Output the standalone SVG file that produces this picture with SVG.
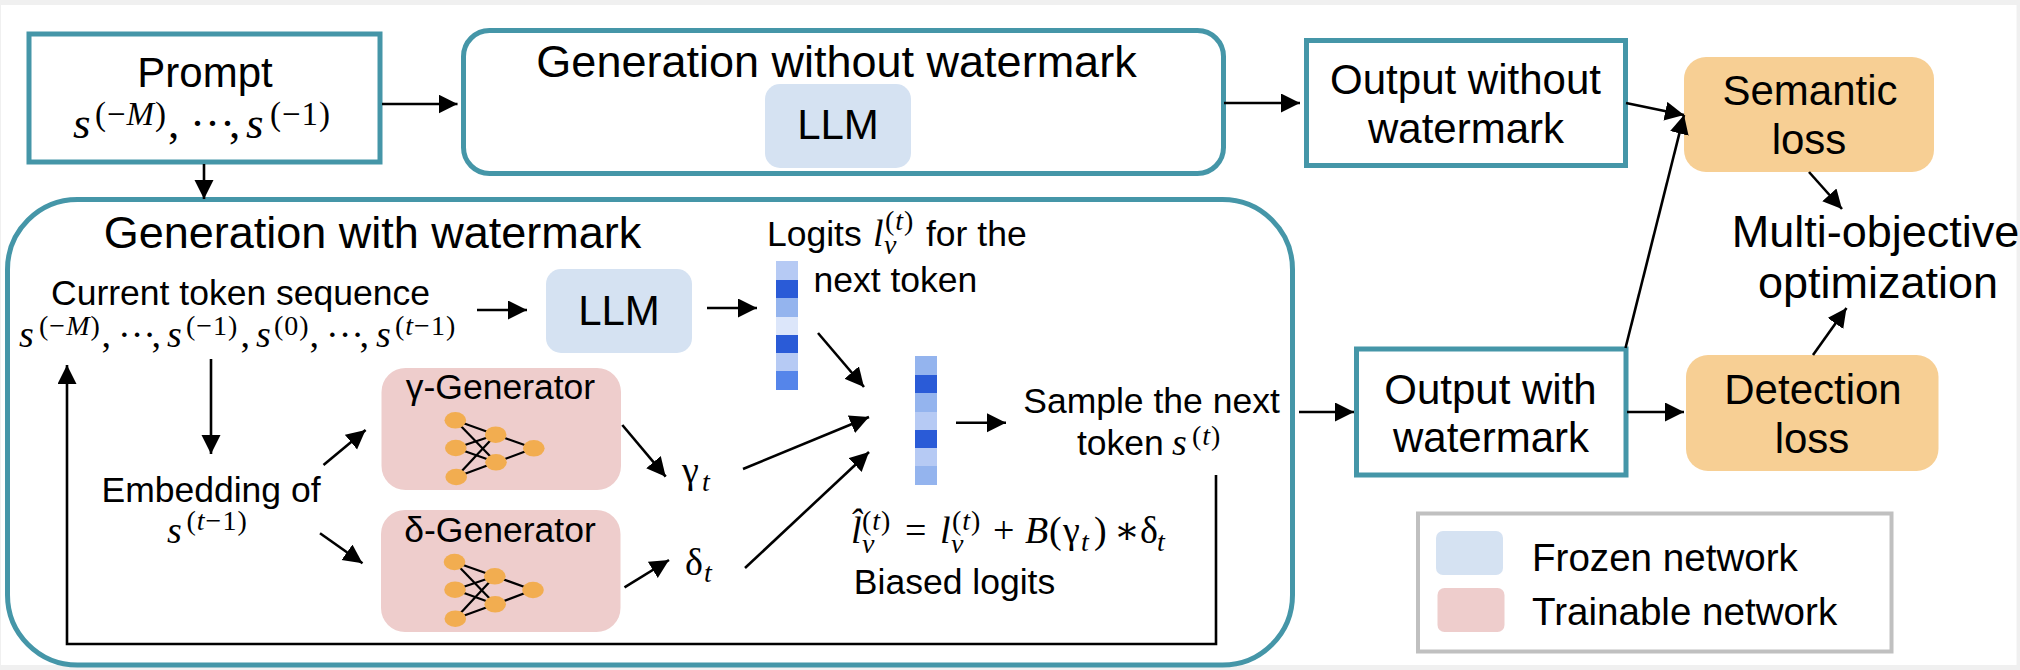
<svg xmlns="http://www.w3.org/2000/svg" width="2020" height="670" viewBox="0 0 2020 670">
<style>
text{font-family:"Liberation Sans",Arial,sans-serif;fill:#000;text-anchor:middle}
.f45{font-size:45px}.f42{font-size:42px}.f36{font-size:35.5px}.f38{font-size:38.6px}
.st{text-anchor:start}
.teal{fill:#fff;stroke:#4596a8;stroke-width:5}
.frozen{fill:#d5e2f2}.train{fill:#eecdcc}.loss{fill:#f7cf94}
.m{font-family:"Liberation Serif","DejaVu Serif",serif;text-anchor:start}
.i{font-style:italic}
.b{font-size:45px}.bs{font-size:33px;letter-spacing:1px}.c{font-size:38px}.cs{font-size:28px;letter-spacing:1px}
.edges line,.edges path{stroke:#000;stroke-width:2.6;fill:none}
.arr{marker-end:url(#ah)}
.nn line{stroke:#000;stroke-width:2.2}
.nn ellipse{fill:#f2ad50;rx:10.8px;ry:8.3px}
</style>
<defs>
<marker id="ah" markerUnits="userSpaceOnUse" markerWidth="20" markerHeight="20" refX="19" refY="9.5" orient="auto"><path d="M0,0L19,9.5L0,19z" fill="#000"/></marker>
</defs>
<rect width="2020" height="670" fill="#f0f0f0"/>
<rect x="1" y="5" width="2015.500" height="660" fill="#fff"/>

<g id="with-watermark"><rect class="teal" x="7.500" y="199.500" width="1285" height="465.500" rx="70"/>
<text class="f45" x="372.500" y="248">Generation with watermark</text></g>

<g id="prompt"><rect class="teal" x="29" y="34" width="351" height="128"/>
<text class="f42" x="205" y="87">Prompt</text>
<text class="m b"><tspan class="i" x="73" y="138">s</tspan><tspan class="bs" x="95" y="125">(−<tspan class="i">M</tspan>)</tspan><tspan x="168" y="138">,</tspan><tspan x="190" y="138">···</tspan><tspan x="229" y="138">,</tspan><tspan class="i" x="246" y="138">s</tspan><tspan class="bs" x="270" y="125">(−1)</tspan></text></g>

<g id="without-watermark"><rect class="teal" x="463.500" y="30.500" width="760" height="143" rx="26"/>
<text class="f45" x="836.500" y="77">Generation without watermark</text>
<rect class="frozen" x="765" y="84" width="146" height="84" rx="15"/>
<text class="f42" x="838" y="139">LLM</text></g>

<g id="output-without"><rect class="teal" x="1306.500" y="40.500" width="319" height="125"/>
<text class="f42" x="1465.500" y="94">Output without</text><text class="f42" x="1466" y="143">watermark</text></g>

<g id="semantic-loss"><rect class="loss" x="1684" y="57" width="250" height="115" rx="22"/>
<text class="f42" x="1810" y="105">Semantic</text><text class="f42" x="1809" y="154">loss</text></g>

<g id="multi-objective"><text class="f45" x="1875.500" y="247">Multi-objective</text><text class="f45" x="1878" y="298">optimization</text></g>

<g id="output-with"><rect class="teal" x="1356.500" y="349" width="269.500" height="126"/>
<text class="f42" x="1490.500" y="404">Output with</text><text class="f42" x="1491" y="452">watermark</text></g>

<g id="detection-loss"><rect class="loss" x="1686" y="355" width="252.500" height="116" rx="22"/>
<text class="f42" x="1813" y="404">Detection</text><text class="f42" x="1812" y="453">loss</text></g>

<g id="current-sequence"><text class="f36" x="240.500" y="305">Current token sequence</text>
<text class="m c"><tspan class="i" x="19" y="347">s</tspan><tspan class="cs" x="39" y="335">(−<tspan class="i">M</tspan>)</tspan><tspan x="101.500" y="347">,</tspan><tspan x="118" y="347">···</tspan><tspan x="151.500" y="347">,</tspan><tspan class="i" x="167" y="347">s</tspan><tspan class="cs" x="186" y="335">(−1)</tspan><tspan x="240.500" y="347">,</tspan><tspan class="i" x="256" y="347">s</tspan><tspan class="cs" x="274" y="335">(0)</tspan><tspan x="309.500" y="347">,</tspan><tspan x="326" y="347">···</tspan><tspan x="359.500" y="347">,</tspan><tspan class="i" x="376" y="347">s</tspan><tspan class="cs" x="395" y="335">(<tspan class="i">t</tspan>−1)</tspan></text></g>

<g id="llm"><rect class="frozen" x="546" y="269" width="146" height="84" rx="15"/>
<text class="f42" x="619" y="325">LLM</text></g>

<g id="logits"><text class="f36 st" x="767" y="246">Logits</text>
<text class="m c"><tspan class="i" x="873" y="246">l</tspan><tspan class="cs i" x="884" y="254">v</tspan><tspan class="cs" x="885" y="230">(<tspan class="i">t</tspan>)</tspan></text>
<text class="f36 st" x="926" y="246">for the</text><text class="f36 st" x="813.500" y="292">next token</text>
<rect x="776" y="261" width="22" height="19" fill="#b6caf4"/><rect x="776" y="280" width="22" height="18" fill="#2a5bd7"/><rect x="776" y="298" width="22" height="19" fill="#94b4ee"/><rect x="776" y="317" width="22" height="18" fill="#dce6fa"/><rect x="776" y="335" width="22" height="18" fill="#2a5bd7"/><rect x="776" y="353" width="22" height="18" fill="#b6caf4"/><rect x="776" y="371" width="22" height="19" fill="#5585ea"/></g>

<g id="biased-logits">
<rect x="915" y="356" width="22" height="19" fill="#94b4ee"/><rect x="915" y="375" width="22" height="18" fill="#2a5bd7"/><rect x="915" y="393" width="22" height="19" fill="#94b4ee"/><rect x="915" y="412" width="22" height="18" fill="#b6caf4"/><rect x="915" y="430" width="22" height="18" fill="#2a5bd7"/><rect x="915" y="448" width="22" height="18" fill="#b6caf4"/><rect x="915" y="466" width="22" height="19" fill="#94b4ee"/>
<text class="m c"><tspan class="i" x="851" y="543">l̂</tspan><tspan class="cs i" x="862" y="553">v</tspan><tspan class="cs" x="862" y="530">(<tspan class="i">t</tspan>)</tspan><tspan x="905" y="543">=</tspan><tspan class="i" x="940" y="543">l</tspan><tspan class="cs i" x="951" y="553">v</tspan><tspan class="cs" x="952" y="530">(<tspan class="i">t</tspan>)</tspan><tspan x="993" y="543">+</tspan><tspan class="i" x="1025" y="543">B</tspan><tspan x="1049" y="543">(</tspan><tspan x="1063" y="543">γ</tspan><tspan class="cs i" x="1081" y="551">t</tspan><tspan x="1094" y="543">)</tspan><tspan x="1114" y="543">∗</tspan><tspan x="1140" y="543">δ</tspan><tspan class="cs i" x="1157" y="551">t</tspan></text>
<text class="f36" x="954.500" y="594">Biased logits</text></g>

<g id="sample"><text class="f36" x="1151.500" y="413">Sample the next</text>
<text class="f36 st" x="1077" y="455">token</text>
<text class="m c"><tspan class="i" x="1172" y="455">s</tspan><tspan class="cs" x="1192" y="445">(<tspan class="i">t</tspan>)</tspan></text></g>

<g id="embedding"><text class="f36" x="211" y="502">Embedding of</text>
<text class="m c"><tspan class="i" x="167" y="543">s</tspan><tspan class="cs" x="186.500" y="530">(<tspan class="i">t</tspan>−1)</tspan></text></g>

<g id="gamma-generator"><rect class="train" x="381.500" y="368" width="239.500" height="122" rx="24"/>
<text class="f36" x="500.500" y="399">γ-Generator</text>
<g class="nn"><line x1="455.300" y1="420.300" x2="495.700" y2="434.700"/><line x1="455.300" y1="420.300" x2="496" y2="462.300"/><line x1="455.800" y1="448" x2="495.700" y2="434.700"/><line x1="455.800" y1="448" x2="496" y2="462.300"/><line x1="456.200" y1="477" x2="495.700" y2="434.700"/><line x1="456.200" y1="477" x2="496" y2="462.300"/><line x1="495.700" y1="434.700" x2="533.800" y2="448.300"/><line x1="496" y1="462.300" x2="533.800" y2="448.300"/>
<ellipse cx="455.300" cy="420.300"/><ellipse cx="455.800" cy="448"/><ellipse cx="456.200" cy="477"/><ellipse cx="495.700" cy="434.700"/><ellipse cx="496" cy="462.300"/><ellipse cx="533.800" cy="448.300"/></g></g>

<g id="delta-generator"><rect class="train" x="381" y="510" width="239.500" height="122" rx="24"/>
<text class="f36" x="500" y="541.700">δ-Generator</text>
<g class="nn"><line x1="454.500" y1="562" x2="494.800" y2="576.300"/><line x1="454.500" y1="562" x2="495.200" y2="604.300"/><line x1="455" y1="589.700" x2="494.800" y2="576.300"/><line x1="455" y1="589.700" x2="495.200" y2="604.300"/><line x1="455.300" y1="618.700" x2="494.800" y2="576.300"/><line x1="455.300" y1="618.700" x2="495.200" y2="604.300"/><line x1="494.800" y1="576.300" x2="533" y2="590"/><line x1="495.200" y1="604.300" x2="533" y2="590"/>
<ellipse cx="454.500" cy="562"/><ellipse cx="455" cy="589.700"/><ellipse cx="455.300" cy="618.700"/><ellipse cx="494.800" cy="576.300"/><ellipse cx="495.200" cy="604.300"/><ellipse cx="533" cy="590"/></g></g>

<g id="gamma-t"><text class="m c"><tspan x="682" y="483">γ</tspan><tspan class="cs i" x="702" y="491">t</tspan></text></g>
<g id="delta-t"><text class="m c"><tspan x="685" y="575">δ</tspan><tspan class="cs i" x="704" y="582">t</tspan></text></g>

<g id="legend"><rect x="1418" y="513.500" width="473.500" height="138" fill="#fff" stroke="#c0c0c0" stroke-width="4"/>
<rect class="frozen" x="1436" y="531" width="67" height="44" rx="7"/><rect class="train" x="1437.500" y="588" width="67" height="44" rx="7"/>
<text class="f38 st" x="1532" y="570.700">Frozen network</text><text class="f38 st" x="1532" y="625">Trainable network</text></g>

<g id="connectors" class="edges">
<line class="arr" x1="382" y1="104" x2="457.500" y2="104"/>
<line class="arr" x1="204" y1="164" x2="204" y2="199"/>
<line class="arr" x1="1224" y1="103" x2="1300" y2="103"/>
<line class="arr" x1="1626" y1="103" x2="1684" y2="115"/>
<line class="arr" x1="1625.500" y1="348" x2="1684" y2="115"/>
<line class="arr" x1="1809" y1="172" x2="1842" y2="209"/>
<line class="arr" x1="1813" y1="355" x2="1846.500" y2="308"/>
<line class="arr" x1="1299" y1="412" x2="1354" y2="412"/>
<line class="arr" x1="1627" y1="412" x2="1684" y2="412"/>
<line class="arr" x1="477" y1="310" x2="527" y2="310"/>
<line class="arr" x1="707" y1="308" x2="757" y2="308"/>
<line class="arr" x1="818" y1="333" x2="864" y2="387"/>
<line class="arr" x1="743" y1="469" x2="869" y2="417"/>
<line class="arr" x1="745" y1="568" x2="869" y2="452"/>
<line class="arr" x1="956" y1="422.700" x2="1006" y2="422.700"/>
<line class="arr" x1="211" y1="359" x2="211" y2="454"/>
<line class="arr" x1="323.500" y1="465" x2="365.600" y2="430"/>
<line class="arr" x1="320" y1="533.300" x2="362.500" y2="563.300"/>
<line class="arr" x1="622.300" y1="425" x2="665.700" y2="476.700"/>
<line class="arr" x1="624.500" y1="587.300" x2="669" y2="560"/>
<path class="arr" d="M1216,475V644H67V365"/>
</g>
</svg>
